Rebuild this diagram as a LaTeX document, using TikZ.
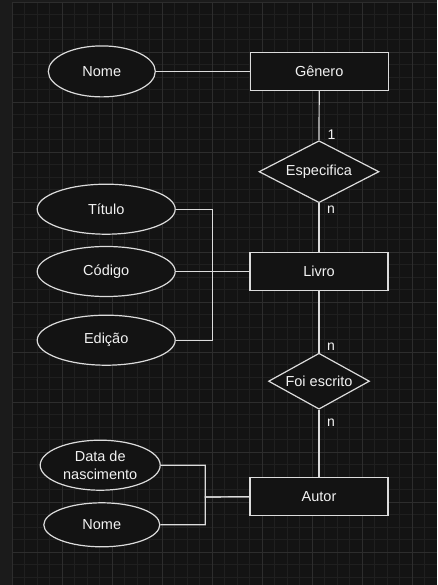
\documentclass[tikz,border=0pt]{standalone}
\usepackage{fontspec}
\setmainfont{Liberation Sans}
\usetikzlibrary{shapes.geometric}

\definecolor{fundo}{HTML}{131313}
\definecolor{faixa}{HTML}{1B1B1B}
\definecolor{grademenor}{HTML}{1F1F1F}
\definecolor{grademaior}{HTML}{2D2D2D}
\definecolor{traco}{HTML}{DCDCDC}
\definecolor{texto}{HTML}{F2F2F2}

\begin{document}
\begin{tikzpicture}[x=1pt, y=-1pt]
	\useasboundingbox (0,0) rectangle (437,585);
	\fill[fundo] (0,0) rectangle (437,585);
	\fill[faixa] (0,0) rectangle (11.8,585);
	\fill[faixa] (0,0) rectangle (437,2);
	
	% GRADE
	\foreach \gx in {12.3,24.8,...,437} \draw[grademenor, line width=.8pt] (\gx,2) -- (\gx,585);
	\foreach \gy in {2,14.5,...,585} \draw[grademenor, line width=.8pt] (12.3,\gy) -- (437,\gy);
	\foreach \gx in {12.3,62.3,...,437} \draw[grademaior, line width=.9pt] (\gx,2) -- (\gx,585);
	\foreach \gy in {2,52,...,585} \draw[grademaior, line width=.9pt] (12.3,\gy) -- (437,\gy);
	
	% ESTILOS
	\tikzstyle{every node}=[font=\fontsize{14.5}{17.5}\selectfont, text=texto, inner sep=0pt]
	\tikzstyle{entidade}=[rectangle, draw=traco, fill=fundo, line width=1.2pt, minimum width=138pt, minimum height=38pt]
	\tikzstyle{atributo}=[ellipse, draw=traco, fill=fundo, line width=1.2pt, align=center]
	\tikzstyle{relacao}=[diamond, aspect=2, draw=traco, fill=fundo, line width=1.2pt]
	\tikzstyle{card}=[font=\fontsize{14}{16}\selectfont]
	\tikzstyle{liga}=[draw=traco, line width=1.2pt]
	
	% ENTIDADES
	\path (319.2, 71.4) node[entidade] (genero) {Gênero};
	\path (319, 271.5) node[entidade, minimum height=37.6pt] (livro) {Livro};
	\path (319, 496.7) node[entidade] (autor) {Autor};
	
	% RELACOES
	\path (319, 171.7) node[relacao, minimum width=120pt, minimum height=62pt] (especifica) {Especifica};
	\path (319, 381.2) node[relacao, minimum width=101pt, minimum height=56pt] (foiescrito) {Foi escrito};
	
	% ATRIBUTOS
	\path (101.8, 71.4) node[atributo, minimum width=107pt, minimum height=51pt] (nomegen) {Nome};
	\path (106.2, 209.2) node[atributo, minimum width=138pt, minimum height=50pt] (titulo) {Título};
	\path (106.2, 271.5) node[atributo, minimum width=138pt, minimum height=50pt] (codigo) {Código};
	\path (106.2, 340.2) node[atributo, minimum width=138pt, minimum height=50pt] (edicao) {Edição};
	\path (100.2, 465.2) node[atributo, minimum width=120pt, minimum height=50pt] (datanasc) {Data de\\nascimento};
	\path (101.8, 524.8) node[atributo, minimum width=116pt, minimum height=44pt] (nomeaut) {Nome};
	
	\coordinate (jlivro) at (212.5, 271.5);
	\coordinate (jautor) at (205.3, 497);
	
	% LIGACOES
	\draw[liga] (nomegen.east) -- (genero.west);
	\draw[liga] (genero.south) -- (especifica.north);
	\draw[liga] (especifica.south) -- (livro.north);
	\draw[liga] (livro.south) -- (foiescrito.north);
	\draw[liga] (foiescrito.south) -- (autor.north);
	
	\draw[liga] (titulo.east) -| (jlivro) -- (livro.west);
	\draw[liga] (codigo.east) -- (livro.west);
	\draw[liga] (edicao.east) -| (jlivro) -- (livro.west);
	
	\draw[liga] (datanasc.east) -| (jautor) -- (autor.west);
	\draw[liga] (nomeaut.east) -| (jautor) -- (autor.west);
	
	% CARDINALIDADES
	\path (331.5, 134.3) node[card] (c1) {1};
	\path (331, 209.3) node[card] (c2) {n};
	\path (331, 346.7) node[card] (c3) {n};
	\path (331, 422.3) node[card] (c4) {n};
\end{tikzpicture}
\end{document}
